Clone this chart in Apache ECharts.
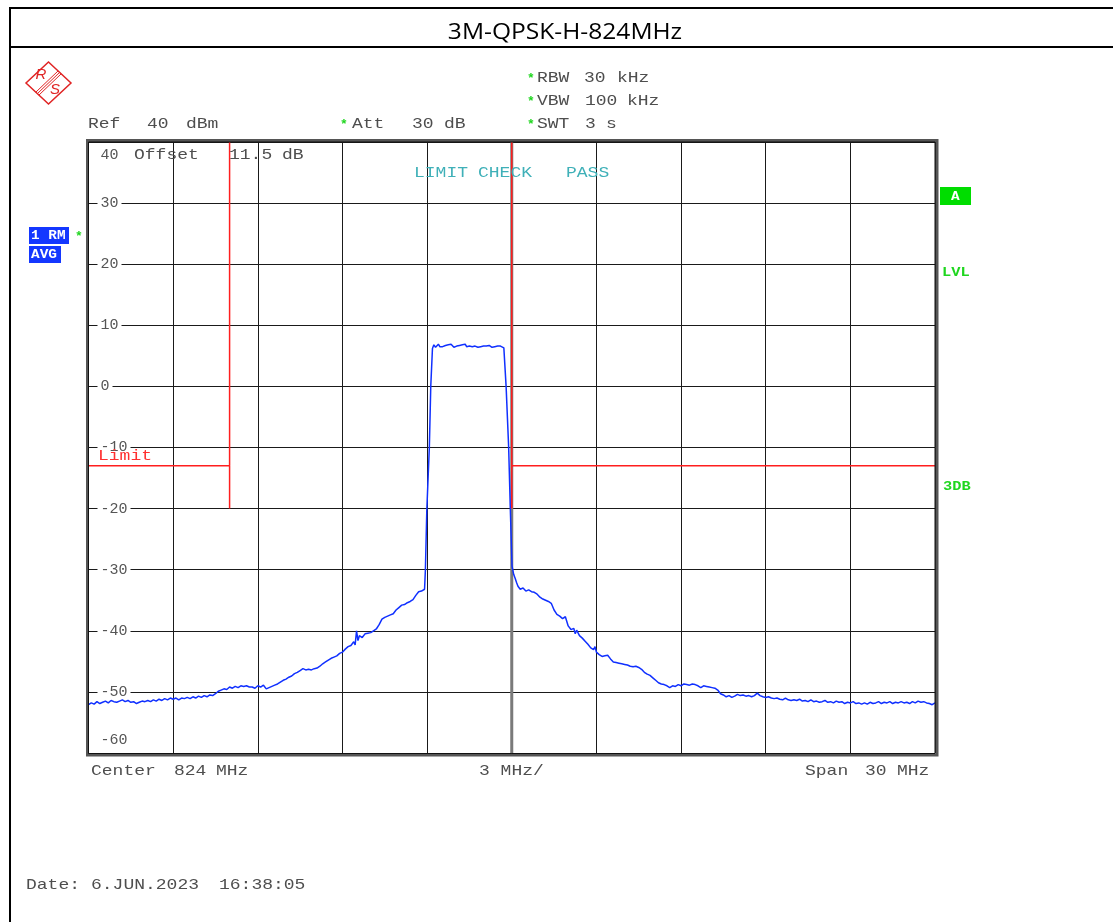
<!DOCTYPE html>
<html>
<head>
<meta charset="utf-8">
<script src="https://cdn.jsdelivr.net/npm/echarts@6/dist/echarts.min.js"></script>
<style>
html,body{margin:0;padding:0;background:#fff;}
#chart{width:1113px;height:922px;}
</style>
</head>
<body>
<div id="chart"></div>
<script>
// ---- Data (frequency in MHz, level in dBm) ----
const titleText = '3M-QPSK-H-824MHz';
const freqMin = 809, freqMax = 839, freqStep = 3;
const levelMin = -60, levelMax = 40, levelStep = 10;

const lowerSkirt = [
[809.00,-52.1],[809.10,-51.8],[809.20,-52.0],[809.30,-51.6],[809.40,-51.9],[809.50,-51.7],[809.60,-51.5],[809.70,-51.8],
[809.80,-51.4],[809.90,-51.6],[810.00,-51.7],[810.10,-51.5],[810.20,-51.3],[810.30,-51.6],[810.40,-51.4],[810.50,-51.7],
[810.60,-51.6],[810.70,-51.9],[810.80,-51.7],[810.90,-51.5],[811.00,-51.6],[811.10,-51.4],[811.20,-51.6],[811.30,-51.3],
[811.40,-51.5],[811.50,-51.2],[811.60,-51.4],[811.70,-51.1],[811.80,-51.3],[811.90,-51.0],[812.00,-51.2],[812.10,-51.0],
[812.20,-51.3],[812.30,-51.0],[812.40,-51.1],[812.50,-50.9],[812.60,-51.1],[812.70,-50.8],[812.80,-51.0],[812.90,-50.7],
[813.00,-50.9],[813.10,-50.6],[813.20,-50.8],[813.30,-50.5],[813.40,-50.6],[813.50,-50.3],[813.60,-49.9],[813.70,-49.7],
[813.80,-49.5],[813.90,-49.6],[814.00,-49.2],[814.10,-49.4],[814.20,-49.1],[814.30,-49.3],[814.40,-49.0],[814.50,-49.1],
[814.60,-49.0],[814.70,-49.2],[814.80,-49.2],[814.90,-49.4],[815.00,-49.0],[815.10,-49.2],[815.20,-48.9],[815.30,-49.5],
[815.40,-49.3],[815.50,-49.1],[815.60,-48.9],[815.70,-48.7],[815.80,-48.4],[815.90,-48.1],[816.00,-47.9],[816.10,-47.6],
[816.20,-47.4],[816.30,-47.0],[816.40,-46.8],[816.50,-46.5],[816.60,-46.2],[816.70,-46.4],[816.80,-46.3],[816.90,-46.4],
[817.00,-46.2],[817.10,-46.1],[817.20,-45.8],[817.30,-45.4],[817.40,-45.1],[817.50,-44.8],[817.60,-44.5],[817.70,-44.3],
[817.80,-44.1],[817.90,-43.7],[818.00,-43.5],[818.10,-43.0],[818.20,-42.6],[818.30,-42.4],[818.40,-41.8],[818.45,-42.3],
[818.50,-40.0],[818.55,-41.6],[818.60,-40.8],[818.70,-41.1],[818.80,-40.5],[818.90,-40.4],[819.00,-40.3],[819.10,-40.0],
[819.20,-39.7],[819.30,-39.0],[819.40,-38.1],[819.50,-37.8],[819.60,-37.6],[819.70,-37.4],[819.80,-37.2],[819.90,-36.6],
[820.00,-36.2],[820.10,-35.8],[820.20,-35.7],[820.30,-35.4],[820.40,-35.2],[820.50,-34.9],[820.60,-34.2],[820.70,-33.6],
[820.80,-33.5],[820.91,-33.2]
];

const channelBlock = [
[820.94,-30.0],[820.99,-20.2],[821.08,-9.9],[821.13,0.0],[821.19,6.2],[821.24,6.8],[821.30,6.4],[821.35,6.6],
[821.40,6.9],[821.45,6.5],[821.50,6.6],[821.55,6.5],[821.60,6.6],[821.65,6.7],[821.70,6.6],[821.75,6.8],
[821.80,6.6],[821.85,6.9],[821.90,6.6],[821.95,6.4],[822.00,6.5],[822.05,6.6],[822.10,6.5],[822.15,6.7],
[822.20,6.5],[822.25,6.8],[822.30,6.6],[822.35,6.9],[822.40,6.5],[822.45,6.8],[822.50,6.6],[822.55,6.7],
[822.60,6.5],[822.65,6.8],[822.70,6.6],[822.75,6.6],[822.80,6.4],[822.85,6.6],[822.90,6.5],[822.95,6.7],
[823.00,6.6],[823.05,6.4],[823.10,6.6],[823.15,6.5],[823.20,6.7],[823.25,6.6],[823.30,6.4],[823.35,6.6],
[823.40,6.5],[823.45,6.7],[823.50,6.6],[823.55,6.5],[823.60,6.6],[823.65,6.5],[823.72,6.3],[823.80,0.0],
[823.89,-9.9],[823.95,-20.2],[824.01,-29.4]
];

const upperSkirt = [
[824.07,-30.8],[824.12,-31.4],[824.17,-32.1],[824.22,-32.7],[824.30,-33.2],[824.40,-33.0],[824.50,-33.5],[824.60,-33.3],
[824.70,-33.6],[824.80,-33.7],[824.90,-34.0],[825.00,-34.5],[825.10,-34.8],[825.20,-35.0],[825.30,-35.2],[825.40,-35.5],
[825.50,-36.6],[825.60,-37.3],[825.70,-37.6],[825.80,-38.0],[825.90,-37.7],[826.00,-39.2],[826.10,-39.8],[826.20,-39.6],
[826.25,-40.5],[826.30,-39.9],[826.40,-40.8],[826.50,-41.2],[826.60,-41.7],[826.70,-42.2],[826.80,-42.8],[826.90,-43.1],
[826.95,-42.6],[827.00,-43.5],[827.10,-43.9],[827.20,-44.2],[827.30,-44.1],[827.40,-44.0],[827.50,-44.6],[827.60,-45.1],
[827.70,-45.2],[827.80,-45.3],[827.90,-45.4],[828.00,-45.5],[828.10,-45.6],[828.20,-45.8],[828.30,-45.9],[828.40,-45.8],
[828.50,-46.0],[828.60,-46.3],[828.70,-46.8],[828.80,-47.1],[828.90,-47.3],[829.00,-47.7],[829.10,-48.1],[829.20,-48.5],
[829.30,-48.7],[829.40,-48.8],[829.50,-49.0],[829.60,-49.3],[829.70,-49.0],[829.80,-49.1],[829.90,-48.8],[830.00,-49.0],
[830.10,-48.7],[830.20,-48.8],[830.30,-48.9],[830.40,-48.7],[830.50,-48.8],[830.60,-49.0],[830.70,-49.3],[830.80,-49.0],
[830.90,-49.1],[831.00,-49.2],[831.10,-49.3],[831.20,-49.4],[831.30,-49.7],[831.40,-50.3],[831.50,-50.5],[831.60,-50.8],
[831.70,-50.6],[831.80,-50.9],[831.90,-50.7],[832.00,-50.4],[832.10,-50.6],[832.20,-50.5],[832.30,-50.7],[832.40,-50.6],
[832.50,-50.8],[832.60,-50.6],[832.70,-50.2],[832.80,-50.6],[832.90,-50.8],[833.00,-50.9],[833.10,-50.8],[833.20,-51.0],
[833.30,-51.1],[833.40,-51.0],[833.50,-51.2],[833.60,-51.3],[833.70,-51.0],[833.80,-51.3],[833.90,-51.4],[834.00,-51.3],
[834.10,-51.4],[834.20,-51.2],[834.30,-51.5],[834.40,-51.4],[834.50,-51.6],[834.60,-51.3],[834.70,-51.6],[834.80,-51.5],
[834.90,-51.7],[835.00,-51.6],[835.10,-51.4],[835.20,-51.7],[835.30,-51.6],[835.40,-51.8],[835.50,-51.5],[835.60,-51.7],
[835.70,-51.6],[835.80,-51.9],[835.90,-51.7],[836.00,-51.8],[836.10,-51.6],[836.20,-51.9],[836.30,-51.8],[836.40,-52.0],
[836.50,-51.8],[836.60,-52.0],[836.70,-51.7],[836.80,-51.9],[836.90,-51.8],[837.00,-51.6],[837.10,-51.9],[837.20,-51.7],
[837.30,-51.8],[837.40,-51.6],[837.50,-51.9],[837.60,-51.7],[837.70,-51.8],[837.80,-51.6],[837.90,-51.8],[838.00,-51.7],
[838.10,-51.9],[838.20,-51.6],[838.30,-51.8],[838.40,-51.5],[838.50,-51.7],[838.60,-51.6],[838.70,-51.8],[838.80,-51.9],
[838.90,-52.1],[839.00,-51.8]
];

// limit line: -13 dBm outside the band, band-edge markers down to -20 dBm
const limitLow  = [[809,-13],[814,-13],[814,40],[814,-20]];
const limitHigh = [[824,40],[824,-20],[824,-13],[839,-13]];
const centerMarker = [[824,40],[824,-60]];

const trace = lowerSkirt.concat(channelBlock, upperSkirt);

// ---- Rendering ----
const MONO = '"Liberation Mono", "DejaVu Sans Mono", monospace';
const TXT = '#4e4e4e';
const GREEN = '#1fd61f';
const SX = 1.2;

function mono(text, x, y, color, size, bold, sx) {
  return {
    type: 'text', x: x, y: y, scaleX: sx || SX, z: 100,
    style: {
      text: text,
      font: (bold ? 'bold ' : '') + (size || 15) + 'px ' + MONO,
      fill: color || TXT,
      align: 'left', verticalAlign: 'middle',
      textAlign: 'left', textVerticalAlign: 'middle'
    }
  };
}
function star(x, y) { return mono('*', x, y, GREEN, 13, true, 1); }
function line(x1, y1, x2, y2, color, w) {
  return {type: 'line', z: 100, shape: {x1: x1, y1: y1, x2: x2, y2: y2},
          style: {stroke: color, lineWidth: w}};
}

const graphics = [
  // page frame
  line(10, 8, 1113, 8, '#000', 2),
  line(10, 47, 1113, 47, '#000', 2),
  line(10, 7, 10, 922, '#000', 2),
  {type: 'text', x: 565, y: 33, z: 100, scaleX: 1.17,
   style: {text: titleText, font: '21px "Open Sans", "Noto Sans", sans-serif', fill: '#000',
           align: 'center', verticalAlign: 'middle', textAlign: 'center', textVerticalAlign: 'middle'}},
  // R&S logo
  {type: 'polygon', z: 100, shape: {points: [[48.5, 62], [71, 83], [48.5, 104], [26, 83]]},
   style: {fill: 'none', stroke: '#e02424', lineWidth: 1.5}},
  line(36, 92, 58, 71, '#e02424', 1),
  line(37.5, 93.5, 59.5, 72.5, '#e02424', 1),
  line(39, 95, 61, 74, '#e02424', 1),
  {type: 'text', x: 41, y: 75, z: 100,
   style: {text: 'R', font: 'italic 15px "Liberation Sans", sans-serif', fill: '#e02424',
           align: 'center', verticalAlign: 'middle', textAlign: 'center', textVerticalAlign: 'middle'}},
  {type: 'text', x: 55, y: 90, z: 100,
   style: {text: 'S', font: 'italic 15px "Liberation Sans", sans-serif', fill: '#e02424',
           align: 'center', verticalAlign: 'middle', textAlign: 'center', textVerticalAlign: 'middle'}},
  // header settings
  star(527, 79), mono('RBW', 537, 78), mono('30', 584, 78), mono('kHz', 617, 78),
  star(527, 102), mono('VBW', 537, 101), mono('100', 585, 101), mono('kHz', 627, 101),
  star(527, 125), mono('SWT', 537, 124), mono('3', 585, 124), mono('s', 606, 124),
  star(340, 125), mono('Att', 352, 124), mono('30', 412, 124), mono('dB', 444, 124),
  mono('Ref', 88, 124), mono('40', 147, 124), mono('dBm', 186, 124),
  mono('Offset', 134, 155), mono('11.5', 229, 155), mono('dB', 282, 155),
  mono('LIMIT', 414, 173, '#3fb0b8'), mono('CHECK', 478, 173, '#3fb0b8'), mono('PASS', 566, 173, '#3fb0b8'),
  mono('Limit', 98, 456, '#ff3030'),
  // trace indicators
  {type: 'rect', z: 100, shape: {x: 29, y: 227, width: 40, height: 17}, style: {fill: '#1437ff'}},
  {type: 'rect', z: 100, shape: {x: 29, y: 246, width: 32, height: 17}, style: {fill: '#1437ff'}},
  mono('1 RM', 31, 236, '#fff', 12, true, 1.2),
  mono('AVG', 31, 255, '#fff', 12, true, 1.2),
  star(75, 237),
  {type: 'rect', z: 100, shape: {x: 940, y: 187, width: 31, height: 18}, style: {fill: '#00dd00'}},
  mono('A', 951, 196.5, '#fff', 12, true, 1.2),
  mono('LVL', 942, 273, GREEN, 12, true, 1.28),
  mono('3DB', 943, 487, GREEN, 12, true, 1.28),
  // plot frame
  {type: 'rect', z: 99, shape: {x: 87.5, y: 140.5, width: 849.5, height: 614.5},
   style: {fill: 'none', stroke: '#555', lineWidth: 3}},
  {type: 'rect', z: 99, shape: {x: 88.5, y: 142, width: 846.5, height: 611.5},
   style: {fill: 'none', stroke: '#111', lineWidth: 1}},
  // footer
  mono('Center', 91, 771), mono('824', 174, 771), mono('MHz', 216, 771),
  mono('3 MHz/', 479, 771),
  mono('Span', 805, 771), mono('30', 865, 771), mono('MHz', 897, 771),
  mono('Date:', 26, 885), mono('6.JUN.2023', 91, 885), mono('16:38:05', 219, 885)
];

const chart = echarts.init(document.getElementById('chart'), null, {renderer: 'canvas'});
chart.setOption({
  animation: false,
  backgroundColor: '#fff',
  grid: {left: 88.5, top: 142, width: 846.5, height: 611},
  xAxis: {
    type: 'value', min: freqMin, max: freqMax, interval: freqStep,
    axisLine: {show: false}, axisTick: {show: false}, axisLabel: {show: false},
    splitLine: {show: true, lineStyle: {color: '#1a1a1a', width: 1}}
  },
  yAxis: {
    type: 'value', min: levelMin, max: levelMax, interval: levelStep,
    axisLine: {show: false}, axisTick: {show: false},
    splitLine: {show: true, lineStyle: {color: '#1a1a1a', width: 1}},
    axisLabel: {
      inside: true, margin: 9,
      formatter: function (v) {
        if (v === levelMax) return '{sp| }\n{n|' + v + '}';
        if (v === levelMin) return '{n|' + v + '}\n{sp| }';
        return '{n|' + v + '}';
      },
      rich: {
        n: {backgroundColor: '#fff', padding: [0, 3], fontFamily: MONO, fontSize: 15, color: '#555', lineHeight: 16},
        sp: {fontSize: 8, lineHeight: 26}
      }
    }
  },
  graphic: graphics,
  series: [
    {type: 'line', data: centerMarker, showSymbol: false, silent: true, z: 1,
     lineStyle: {color: '#7a7a7a', width: 3}},
    {type: 'line', data: limitLow, showSymbol: false, silent: true, z: 3,
     lineStyle: {color: '#ff1e1e', width: 1.5}},
    {type: 'line', data: limitHigh, showSymbol: false, silent: true, z: 3,
     lineStyle: {color: '#ff1e1e', width: 1.5}},
    {type: 'line', data: trace, showSymbol: false, silent: true, z: 5,
     lineStyle: {color: '#1030ff', width: 1.5}}
  ]
});
</script>
</body>
</html>
